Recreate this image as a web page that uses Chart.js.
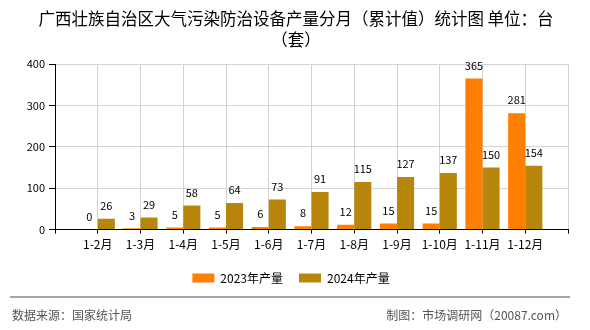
<!DOCTYPE html>
<html lang="zh-CN">
<head>
  <meta charset="UTF-8" />
  <title>广西壮族自治区大气污染防治设备产量分月（累计值）统计图</title>
  <style>
    body {
      margin: 0;
      padding: 0;
      background: #fff;
    }
    #wrap {
      width: 590px;
      height: 330px;
    }
  </style>
</head>
<body>
  <div id="wrap">
    <canvas id="barChart" width="590" height="330"></canvas>
  </div>

  <script src="https://cdn.jsdelivr.net/npm/chart.js"></script>
  <script>
    // data
    const months = ['1-2月', '1-3月', '1-4月', '1-5月', '1-6月', '1-7月', '1-8月', '1-9月', '1-10月', '1-11月', '1-12月'];
    const output2023 = [0, 3, 5, 5, 6, 8, 12, 15, 15, 365, 281];
    const output2024 = [26, 29, 58, 64, 73, 91, 115, 127, 137, 150, 154];
    const yTicks = [0, 100, 200, 300, 400];
    const titleLines = ['广西壮族自治区大气污染防治设备产量分月（累计值）统计图 单位：台', '（套）'];

    const FONT = '"Noto Sans CJK SC", "Noto Sans", sans-serif';

    // the picture leaves one empty slot at each end of the axis
    const labels = [''].concat(months, ['']);
    const pad = arr => [null].concat(arr, [null]);

    // value labels over each bar
    const valueLabels = {
      id: 'valueLabels',
      afterDatasetsDraw(chart) {
        const ctx = chart.ctx;
        ctx.save();
        ctx.font = '11px ' + FONT;
        ctx.fillStyle = '#000';
        ctx.textAlign = 'center';
        ctx.textBaseline = 'middle';
        chart.data.datasets.forEach((ds, i) => {
          const meta = chart.getDatasetMeta(i);
          meta.data.forEach((bar, j) => {
            const v = ds.data[j];
            if (v === null || v === undefined) return;
            ctx.fillText(String(v), bar.x, bar.y - 13);
          });
        });
        ctx.restore();
      }
    };

    // title centred on the whole page + source line under the chart
    const frame = {
      id: 'frame',
      afterDraw(chart) {
        const ctx = chart.ctx;
        ctx.save();
        ctx.font = '16.5px ' + FONT;
        ctx.fillStyle = '#000';
        ctx.textAlign = 'center';
        ctx.textBaseline = 'middle';
        titleLines.forEach((t, i) => ctx.fillText(t, 296, 19 + i * 21));

        ctx.strokeStyle = '#888';
        ctx.lineWidth = 1.5;
        ctx.beginPath();
        ctx.moveTo(10, 297);
        ctx.lineTo(570, 297);
        ctx.stroke();
        ctx.font = '12px ' + FONT;
        ctx.fillStyle = '#555';
        ctx.textAlign = 'left';
        ctx.fillText('数据来源：国家统计局', 12, 315);
        ctx.textAlign = 'right';
        ctx.fillText('制图：市场调研网（20087.com）', 567, 315);
        ctx.restore();
      }
    };

    const ctxBar = document.getElementById('barChart').getContext('2d');
    const barChart = new Chart(ctxBar, {
      type: 'bar',
      data: {
        labels: labels,
        datasets: [
          {
            label: '2023年产量',
            data: pad(output2023),
            backgroundColor: '#FF8000',
            categoryPercentage: 0.8,
            barPercentage: 1.0
          },
          {
            label: '2024年产量',
            data: pad(output2024),
            backgroundColor: '#B8860B',
            categoryPercentage: 0.8,
            barPercentage: 1.0
          }
        ]
      },
      options: {
        responsive: false,
        animation: false,
        devicePixelRatio: 1,
        layout: {
          padding: { left: 14, right: 22, top: 64, bottom: 36 }
        },
        plugins: {
          title: { display: false },
          legend: {
            position: 'bottom',
            labels: {
              boxWidth: 22,
              boxHeight: 9,
              padding: 16,
              color: '#000',
              font: { family: FONT, size: 12 }
            }
          },
          tooltip: { enabled: false }
        },
        scales: {
          x: {
            offset: false,
            grid: {
              offset: false,
              color: '#d3d3d3',
              tickColor: '#000',
              tickLength: 4
            },
            border: { color: '#000', width: 1 },
            ticks: {
              color: '#000',
              padding: 4,
              maxRotation: 0,
              autoSkip: false,
              font: { family: FONT, size: 12 }
            }
          },
          y: {
            min: 0,
            max: 400,
            afterBuildTicks(scale) {
              scale.ticks = yTicks.map(v => ({ value: v }));
            },
            afterFit(scale) {
              scale.width = 41;
            },
            grid: {
              color: '#d3d3d3',
              tickColor: '#000',
              tickLength: 6
            },
            border: { color: '#000', width: 1 },
            ticks: {
              color: '#000',
              padding: 4,
              font: { family: FONT, size: 11 }
            }
          }
        }
      },
      plugins: [valueLabels, frame]
    });
  </script>
</body>
</html>
